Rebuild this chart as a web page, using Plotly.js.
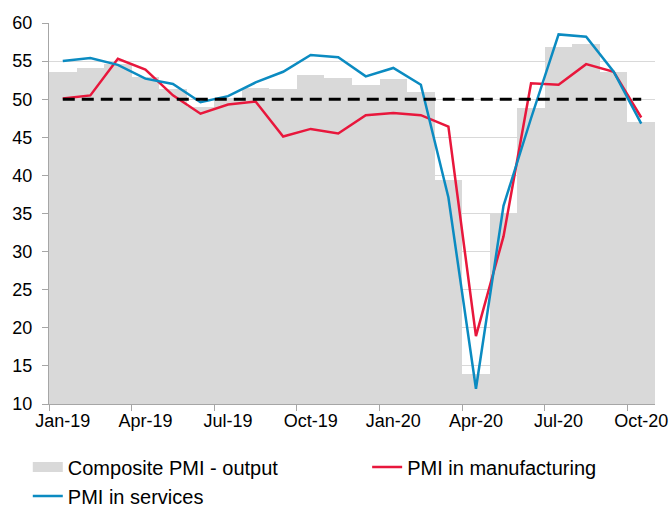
<!DOCTYPE html>
<html>
<head>
<meta charset="utf-8">
<script src="https://cdn.plot.ly/plotly-3.0.1.min.js"></script>
<style>
  html, body { margin: 0; padding: 0; background: #fff; }
  #chart { width: 672px; height: 507px; }
</style>
</head>
<body>
<div id="chart"></div>
<script>
// monthly PMI readings, Jan-19 .. Oct-20
const months = [
  "Jan-19", "Feb-19", "Mar-19", "Apr-19", "May-19", "Jun-19",
  "Jul-19", "Aug-19", "Sep-19", "Oct-19", "Nov-19", "Dec-19",
  "Jan-20", "Feb-20", "Mar-20", "Apr-20", "May-20", "Jun-20",
  "Jul-20", "Aug-20", "Sep-20", "Oct-20",
];
const composite = [
  53.6, 54.1, 54.6, 52.9, 51.4, 49.0, 50.1, 51.5, 51.4, 53.2, 52.8, 51.8,
  52.6, 50.9, 39.4, 13.9, 35.0, 48.8, 56.8, 57.3, 53.6, 47.0,
];
const manufacturing = [
  50.1, 50.5, 55.3, 53.9, 50.5, 48.1, 49.3, 49.7, 45.1, 46.1, 45.5, 47.9,
  48.2, 47.9, 46.4, 18.9, 32.0, 52.1, 51.9, 54.6, 53.6, 47.6,
];
const services = [
  55.0, 55.4, 54.5, 52.7, 52.0, 49.6, 50.4, 52.2, 53.6, 55.8, 55.5, 53.0,
  54.1, 51.9, 37.1, 12.0, 36.0, 47.5, 58.5, 58.2, 53.6, 46.8,
];
const threshold = 50;

const GREY = "#d9d9d9";
const RED = "#e8173c";
const BLUE = "#0b8bc1";

const traces = [
  {
    x: months,
    y: composite,
    type: "bar",
    marker: { color: GREY },
    showlegend: false,
    hoverinfo: "x+y",
  },
  // legend entry only: wide grey swatch like the original
  {
    x: [null],
    y: [null],
    mode: "lines",
    name: "Composite PMI - output",
    line: { color: GREY, width: 10 },
    legend: "legend",
  },
  {
    x: months,
    y: manufacturing,
    mode: "lines",
    name: "PMI in manufacturing",
    line: { color: RED, width: 2.5 },
    legend: "legend2",
  },
  {
    x: months,
    y: services,
    mode: "lines",
    name: "PMI in services",
    line: { color: BLUE, width: 2.5 },
    legend: "legend",
  },
  {
    x: [months[0], months[months.length - 1]],
    y: [threshold, threshold],
    mode: "lines",
    showlegend: false,
    line: { color: "#000", width: 3, dash: "12px,7px" },
  },
];

const legendBase = {
  orientation: "v",
  xanchor: "left",
  y: -0.114,
  yanchor: "top",
  font: { size: 20 },
  bgcolor: "rgba(0,0,0,0)",
  traceorder: "normal",
};

const layout = {
  width: 672,
  height: 507,
  margin: { l: 49, r: 17, t: 23, b: 103, autoexpand: false },
  paper_bgcolor: "#fff",
  plot_bgcolor: "#fff",
  font: { family: "Liberation Sans, Arial, sans-serif", size: 18, color: "#000" },
  bargap: 0,
  xaxis: {
    type: "category",
    tickmode: "linear",
    tick0: 0,
    dtick: 3,
    tickangle: 0,
    tickson: "boundaries",
    ticks: "outside",
    ticklen: 6,
    tickcolor: "#a6a6a6",
    showline: true,
    linecolor: "#a6a6a6",
    showgrid: false,
    automargin: false,
    range: [-0.5, months.length - 0.5],
  },
  yaxis: {
    range: [10, 60],
    dtick: 5,
    showgrid: true,
    gridcolor: GREY,
    zeroline: false,
    showline: true,
    linecolor: "#a6a6a6",
    ticks: "outside",
    ticklen: 6,
    tickcolor: "#a6a6a6",
    ticklabelstandoff: 6,
    automargin: false,
  },
  legend: Object.assign({}, legendBase, { x: -0.035 }),
  legend2: Object.assign({}, legendBase, { x: 0.525 }),
};

Plotly.newPlot("chart", traces, layout, { displayModeBar: false, staticPlot: true });
</script>
</body>
</html>
